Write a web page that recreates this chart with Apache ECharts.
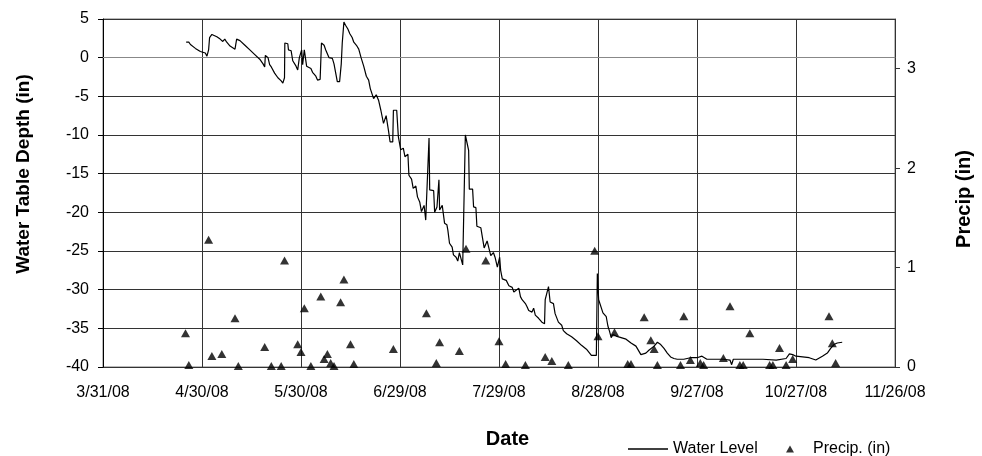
<!DOCTYPE html>
<html><head><meta charset="utf-8">
<script src="https://cdn.jsdelivr.net/npm/echarts@6/dist/echarts.min.js"></script>
<style>html,body{margin:0;padding:0;background:#fff}#c{width:982px;height:456px}</style>
</head><body><div id="c"></div>
<script>
// x values are days after 3/31/08
const tickLabels = ['3/31/08','4/30/08','5/30/08','6/29/08','7/29/08','8/28/08','9/27/08','10/27/08','11/26/08'];

const levelDays = [
25.2,26,26.5,28,29.5,31,31.5,32,32.3,33,34.5,35.5,36.3,36.9,37.5,38.5,40,40.5,41.5,43,44.5,46,47.5,48.5,49,49.2,50,50.5,51,52,53,54,54.5,55,55.1,56,56.2,57,57.5,58.5,59,59.5,60.2,60.5,61,61.5,61.7,63,63.5,64.5,65,65.8,66.2,67,67.5,68.5,69.5,70,71,71.7,72.2,72.5,73,73.5,74.2,74.8,75.5,76,76.8,77.5,78.2,79,79.8,80.5,81,82,82.8,83.5,84.2,85,85.8,86.5,87,87.8,88,89,89.5,
90.2,91,91.5,92.4,92.7,93.5,94,94.8,95.3,96,96.5,97.3,97.8,98.3,98.8,99,100.2,100.5,101.2,101.8,102,102.8,103.5,104.2,104.5,105,105.8,106.2,107,107.5,108,108.5,109,109.6,109.8,110.8,111,112,112.3,113,113.3,114.5,115,115.5,116.4,117,117.5,118.3,118.8,119.5,120.2,120.5,121,122.2,123,124,124.5,125,126,126.5,127,128,128.5,129,130,130.5,131,132,133,133.8,134,135,135.5,136.5,137,138,139,139.5,140.5,142,143.5,145,146.5,148,149.5,149.8,150.2,150.8,151.5,152.5,153,153.5,154,154.5,155.5,157,158.5,160,161.5,163,164.5,165.5,167,168,169,170,171,172,173,174,176,178,180,181.5,183,186,188,190,190.5,191,195,200,204,207,208,209,210,212,214,216,218,219.5,220.5,221.5,222.5,224
];
const levelValues = [
2.0,2.0,1.7,1.2,0.8,0.6,0.2,1.0,2.6,3.0,2.7,2.4,2.1,2.4,2.0,1.5,1.1,2.4,2.2,1.6,1.0,0.4,-0.2,-0.8,-1.2,0.3,0.0,-0.9,-1.2,-2.0,-2.6,-3.0,-3.3,-2.6,1.9,1.8,1.0,0.9,-0.4,-1.1,-1.6,0.0,1.0,-0.9,1.0,0.8,-1.1,-1.4,-1.9,-2.4,-2.9,-2.8,1.9,1.6,1.0,0.0,-0.1,-0.8,-3.1,-3.1,-0.8,1.9,4.6,4.2,3.7,3.1,2.6,2.0,1.6,1.1,0.0,-1.1,-2.4,-2.9,-4.0,-5.3,-4.8,-5.5,-6.8,-8.5,-7.5,-9.4,-10.9,-10.9,-6.8,-6.8,-10.2,
-11.9,-11.7,-12.8,-12.5,-15.2,-15.7,-16.9,-16.6,-18.0,-18.7,-19.9,-19.1,-21.0,-21.0,-10.4,-17.1,-17.2,-20.0,-19.3,-15.8,-19.7,-19.1,-21.4,-21.6,-22.3,-24.0,-24.5,-25.5,-25.8,-26.3,-25.2,-25.2,-26.8,-26.7,-10.0,-12.0,-17.0,-17.0,-19.3,-19.4,-21.8,-22.0,-23.3,-24.6,-23.7,-23.7,-25.6,-25.2,-25.8,-27.1,-25.8,-27.5,-28.6,-28.8,-29.5,-29.7,-30.3,-30.5,-29.8,-30.9,-31.3,-31.8,-32.2,-32.7,-32.9,-32.4,-33.3,-33.7,-34.2,-34.4,-31.3,-29.6,-31.6,-31.8,-33.1,-34.2,-34.6,-35.3,-35.7,-36.1,-36.6,-37.2,-37.7,-38.5,-38.5,-27.9,-31.3,-31.5,-33.0,-33.5,-34.7,-35.4,-36.2,-35.8,-36.0,-36.2,-36.4,-36.9,-37.3,-38.4,-38.2,-37.8,-37.3,-36.8,-37.1,-37.6,-38.2,-38.7,-38.9,-39.0,-39.0,-38.8,-38.8,-38.6,-39.0,-39.0,-39.0,-39.1,-39.7,-39.0,-39.0,-39.0,-39.1,-38.9,-38.3,-38.4,-38.6,-38.7,-38.8,-39.1,-38.6,-38.2,-37.6,-37.1,-36.9,-36.8
];

const precipDays = [25,26,32,33,36,40,41,49,51,54,55,59,60,61,63,66,67,68,69,70,72,73,75,76,88,98,101,102,108,110,116,120,122,128,134,136,141,149,150,155,159,160,164,166,167,168,175,176,178,181,182,188,190,193,194,196,202,203,205,207,209,220,221,222];
const precipValues = [0.34,0.02,1.28,0.11,0.13,0.49,0.01,0.20,0.01,0.01,1.07,0.23,0.15,0.59,0.01,0.71,0.08,0.13,0.04,0.01,0.65,0.88,0.23,0.03,0.18,0.54,0.04,0.25,0.16,1.19,1.07,0.26,0.03,0.02,0.10,0.06,0.02,1.17,0.31,0.35,0.03,0.03,0.50,0.27,0.18,0.02,0.02,0.51,0.07,0.04,0.02,0.09,0.61,0.02,0.02,0.34,0.02,0.02,0.19,0.02,0.08,0.51,0.24,0.04];

const FONT = 'Liberation Sans, Arial, sans-serif';
const chart = echarts.init(document.getElementById('c'), null, {renderer:'canvas'});
chart.setOption({
  animation: false,
  backgroundColor: '#fff',
  textStyle: {fontFamily: FONT, color: '#000'},
  grid: {left: 103, right: 79, top: 19, bottom: 89, show: true, borderColor: '#777', borderWidth: 1},
  legend: [
    {data: [{name: 'Water Level', icon: 'rect'}], left: 628, top: 441, padding: 0,
     itemWidth: 40, itemHeight: 1.5, itemStyle: {color: '#000'},
     textStyle: {fontFamily: FONT, fontSize: 16, color: '#000'}},
    {data: [{name: 'Precip. (in)', icon: 'triangle'}], left: 786, top: 441, padding: 0,
     itemWidth: 8, itemHeight: 7,
     textStyle: {fontFamily: FONT, fontSize: 16, color: '#000', padding: [0,0,0,14]}}
  ],
  xAxis: {
    type: 'value', min: 0, max: 240, interval: 30,
    name: 'Date', nameLocation: 'middle', nameGap: 62,
    nameTextStyle: {fontFamily: FONT, fontSize: 20, fontWeight: 'bold', color: '#000', padding: [0,0,0,17]},
    axisLine: {show: true, lineStyle: {color: '#888', width: 1}},
    axisTick: {show: false},
    axisLabel: {fontFamily: FONT, fontSize: 16, color: '#000', margin: 18,
      formatter: v => tickLabels[Math.round(v / 30)] || ''},
    splitLine: {show: true, lineStyle: {color: '#333', width: 1}}
  },
  yAxis: [
    {
      type: 'value', min: -40, max: 5, interval: 5, position: 'left',
      name: 'Water Table Depth (in)', nameLocation: 'middle', nameGap: 70,
      nameTextStyle: {fontFamily: FONT, fontSize: 19, fontWeight: 'bold', color: '#000', padding: [0,0,0,38]},
      axisLine: {show: true, lineStyle: {color: '#000', width: 1}},
      axisTick: {show: true, length: 5, lineStyle: {color: '#000'}},
      axisLabel: {fontFamily: FONT, fontSize: 16, color: '#000', margin: 14},
      splitLine: {show: true, lineStyle: {color: '#333', width: 1}}
    },
    {
      type: 'value', min: 0, max: 3.5, interval: 1, position: 'right',
      name: 'Precip (in)', nameLocation: 'middle', nameGap: 59,
      nameTextStyle: {fontFamily: FONT, fontSize: 20, fontWeight: 'bold', color: '#000', padding: [0,12,0,0]},
      axisLine: {show: true, lineStyle: {color: '#333', width: 1}},
      axisTick: {show: true, length: 5, customValues: [0,1,2,3], lineStyle: {color: '#333'}},
      axisLabel: {fontFamily: FONT, fontSize: 16, color: '#000', margin: 12, customValues: [0,1,2,3]},
      splitLine: {show: false}
    }
  ],
  series: [
    {
      name: 'Water Level', type: 'line', yAxisIndex: 0,
      data: levelDays.map((d, i) => [d, levelValues[i]]),
      symbol: 'none', showSymbol: false,
      lineStyle: {color: '#000', width: 1.2}, itemStyle: {color: '#000'}, z: 3
    },
    {
      name: 'Precip. (in)', type: 'scatter', yAxisIndex: 1,
      data: precipDays.map((d, i) => [d, precipValues[i]]),
      symbol: 'triangle', symbolSize: [9, 8],
      itemStyle: {color: '#000'}, z: 4
    }
  ]
});
</script>
</body></html>
